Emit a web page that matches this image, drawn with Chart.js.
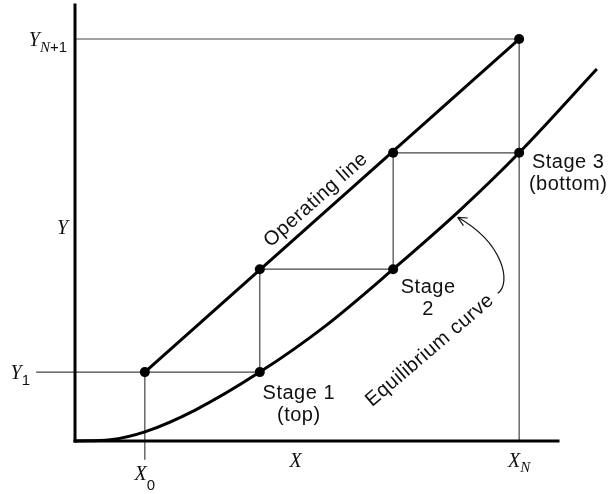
<!DOCTYPE html>
<html>
<head>
<meta charset="utf-8">
<script src="https://cdn.jsdelivr.net/npm/chart.js@4/dist/chart.umd.min.js"></script>
<style>
  html, body { margin: 0; padding: 0; background: #fff; }
  #wrap { width: 609px; height: 494px; }
</style>
</head>
<body>
<div id="wrap"><canvas id="stages" width="609" height="494"></canvas></div>
<script>
// operating line points: (X0,Y1), (X1,Y2), (X2,Y3), (XN,YN+1)
const stageX = [13.3, 35.2, 60.6, 84.6];
const stageY = [15.8, 39.4, 66.1, 92.2];

// equilibrium curve
const eqX = [0, 6.7, 13.3, 22.9, 35.2, 47.6, 60.6, 73.3, 84.6, 99.4];
const eqY = [0, 0.3, 2.1, 7.1, 15.8, 26.3, 39.4, 52.9, 66.1, 85.3];

const xAxisEnd = 92;
const yTickVals = [stageY[3], 49, stageY[0]];
const yTickSubs = ['N+1', '', '1'];
const xTickVals = [stageX[0], 42, stageX[3]];
const xTickSubs = ['0', '', 'N'];
const stageLabels = [['Stage 1', '(top)'], ['Stage', '2'], ['Stage 3', '(bottom)']];

const pts = (xs, ys) => xs.map((x, i) => ({ x, y: ys[i] }));

const opPoints = pts(stageX, stageY);
const eqPoints = [1, 2, 3].map((i) => ({ x: stageX[i], y: stageY[i - 1] }));

const stairs = [];
for (let i = 0; i < 3; i++) {
  stairs.push({ x: stageX[i], y: stageY[i] });
  stairs.push({ x: stageX[i + 1], y: stageY[i] });
}

const thin = { showLine: true, pointRadius: 0, borderColor: '#444', borderWidth: 1.2, clip: false };
const thick = { showLine: true, pointRadius: 0, borderColor: '#000', borderWidth: 3, clip: false };

const datasets = [
  { data: opPoints.concat(eqPoints), pointRadius: 5, pointBackgroundColor: '#000', pointBorderWidth: 0, showLine: false, clip: false },
  { ...thick, data: pts(eqX, eqY), cubicInterpolationMode: 'monotone' },
  { ...thick, data: [opPoints[0], opPoints[3]] },
  { ...thick, data: [{ x: 0, y: 0 }, { x: 0, y: 100 }], borderCapStyle: 'square' },
  { ...thick, data: [{ x: 0, y: 0 }, { x: xAxisEnd, y: 0 }], borderCapStyle: 'square' },
  { ...thin, data: stairs },
  { ...thin, data: [{ x: -7.4, y: stageY[0] }, { x: stageX[0], y: stageY[0] }] },
  { ...thin, data: [{ x: stageX[0], y: stageY[0] }, { x: stageX[0], y: -4.3 }] },
  { ...thin, data: [{ x: 0, y: stageY[3] }, { x: stageX[3], y: stageY[3] }] },
  { ...thin, data: [{ x: stageX[3], y: stageY[3] }, { x: stageX[3], y: 0 }] },
];

const SERIF_I = 'italic 20px "Liberation Serif"';
const SUB_I = 'italic 15px "Liberation Serif"';
const SANS = '20px "Liberation Sans"';
const SUB = '15px "Liberation Sans"';

function drawRuns(ctx, runs, x, y, align) {
  let w = 0;
  runs.forEach((r) => { ctx.font = r.font; r.w = ctx.measureText(r.t).width; w += r.w; });
  let cx = align === 'right' ? x - w : align === 'center' ? x - w / 2 : x;
  ctx.textAlign = 'left';
  ctx.textBaseline = 'alphabetic';
  runs.forEach((r) => {
    ctx.font = r.font;
    ctx.fillText(r.t, cx, y + (r.dy || 0));
    cx += r.w;
  });
}

function subRuns(sub, dy) {
  if (!sub) return [];
  if (sub[0] === 'N') {
    const runs = [{ t: 'N', font: SUB_I, dy }];
    if (sub.length > 1) runs.push({ t: sub.slice(1), font: SUB, dy });
    return runs;
  }
  return [{ t: sub, font: SUB, dy }];
}

const labelPlugin = {
  id: 'labels',
  afterDatasetsDraw(chart) {
    const { ctx, scales } = chart;
    const xs = scales.x, ys = scales.y;
    const axisX = xs.getPixelForValue(0), axisY = ys.getPixelForValue(0);
    ctx.save();
    ctx.fillStyle = '#111';

    // y tick labels
    yTickVals.forEach((v, i) => {
      const py = ys.getPixelForValue(v);
      const right = i === 2 ? axisX - 45 : i === 1 ? axisX - 7 : axisX - 8;
      drawRuns(ctx, [{ t: 'Y', font: SERIF_I }].concat(subRuns(yTickSubs[i], 6)), right, py + 7, 'right');
    });

    // x tick labels
    xTickVals.forEach((v, i) => {
      const px = xs.getPixelForValue(v);
      const base = i === 0 ? axisY + 39 : axisY + 26;
      const dy = i === 0 ? 10 : 5;
      drawRuns(ctx, [{ t: 'X', font: SERIF_I }].concat(subRuns(xTickSubs[i], dy)), px, base, 'center');
    });

    // stage labels
    ctx.letterSpacing = '0.5px';
    const stagePos = [
      [xs.getPixelForValue(stageX[1]) + 39, ys.getPixelForValue(stageY[0]) + 27],
      [xs.getPixelForValue(stageX[2]) + 35, ys.getPixelForValue(stageY[1]) + 24],
      [xs.getPixelForValue(stageX[3]) + 49, ys.getPixelForValue(stageY[2]) + 15],
    ];
    ctx.font = SANS;
    ctx.textAlign = 'center';
    ctx.textBaseline = 'alphabetic';
    stageLabels.forEach((lines, i) => {
      lines.forEach((line, j) => ctx.fillText(line, stagePos[i][0], stagePos[i][1] + j * 22));
    });

    // rotated curve names
    const p0 = { x: xs.getPixelForValue(stageX[0]), y: ys.getPixelForValue(stageY[0]) };
    const p3 = { x: xs.getPixelForValue(stageX[3]), y: ys.getPixelForValue(stageY[3]) };
    const ang = Math.atan2(p3.y - p0.y, p3.x - p0.x);
    ctx.textBaseline = 'middle';
    ctx.save();
    ctx.translate(xs.getPixelForValue(45.9), ys.getPixelForValue(55.3));
    ctx.rotate(ang);
    ctx.fillText('Operating line', 0, 0);
    ctx.restore();

    ctx.save();
    ctx.translate(xs.getPixelForValue(67.6), ys.getPixelForValue(20.8));
    ctx.rotate(-40.6 * Math.PI / 180);
    ctx.fillText('Equilibrium curve', 0, 0);
    ctx.restore();
    ctx.letterSpacing = '0px';

    // curved arrow pointing to the equilibrium curve
    const tx = xs.getPixelForValue(72.9), ty = ys.getPixelForValue(51.3);
    ctx.strokeStyle = '#111';
    ctx.lineWidth = 1.2;
    ctx.beginPath();
    ctx.moveTo(tx + 40, ty + 76);
    ctx.bezierCurveTo(tx + 54, ty + 66, tx + 46, ty + 26, tx, ty);
    ctx.stroke();
    const da = Math.atan2(-26, -46);
    ctx.beginPath();
    [0.45, -0.45].forEach((s) => {
      ctx.moveTo(tx, ty);
      ctx.lineTo(tx - 10 * Math.cos(da + s), ty - 10 * Math.sin(da + s));
    });
    ctx.stroke();
    ctx.restore();
  },
};

new Chart(document.getElementById('stages'), {
  type: 'scatter',
  data: { datasets },
  options: {
    responsive: false,
    animation: false,
    events: [],
    layout: { padding: { left: 75, right: 9, top: 4, bottom: 53 } },
    scales: {
      x: { type: 'linear', min: 0, max: 100, display: false },
      y: { type: 'linear', min: 0, max: 100, display: false },
    },
    plugins: { legend: { display: false }, tooltip: { enabled: false } },
  },
  plugins: [labelPlugin],
});
</script>
</body>
</html>
